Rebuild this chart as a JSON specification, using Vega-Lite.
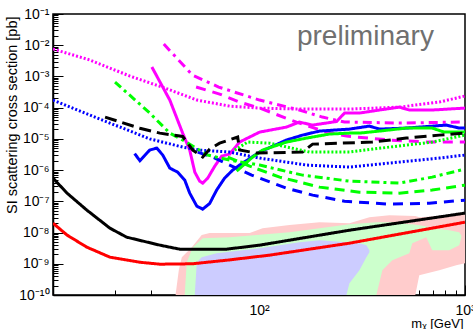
{
  "$schema": "https://vega.github.io/schema/vega-lite/v6.json",
  "width": 412,
  "height": 281,
  "autosize": "none",
  "padding": {"left": 53, "top": 14, "right": 8, "bottom": 34},
  "config": {
    "view": {"stroke": "black", "strokeWidth": 1.5},
    "font": "Liberation Sans",
    "axis": {"domainColor": "black", "domainWidth": 1.5, "tickColor": "black", "tickWidth": 1, "labelColor": "black", "titleColor": "black", "grid": false, "labelFont": "Liberation Sans", "titleFont": "Liberation Sans", "titleFontWeight": "normal", "labelOverlap": false, "labelFlush": false, "labelBound": false}
  },
  "datasets": {
    "lines": [
      {"s":"mag_dot","m":10,"v":7.55e-3},{"s":"mag_dot","m":15.1,"v":3.36e-3},{"s":"mag_dot","m":23.6,"v":1.03e-3},{"s":"mag_dot","m":34.9,"v":4.25e-4},{"s":"mag_dot","m":50,"v":1.75e-4},{"s":"mag_dot","m":72,"v":1.12e-4},{"s":"mag_dot","m":100.7,"v":9.7e-5},{"s":"mag_dot","m":157,"v":9.0e-5},{"s":"mag_dot","m":275,"v":9.0e-5},{"s":"mag_dot","m":480,"v":1.04e-4},{"s":"mag_dot","m":750,"v":1.51e-4},{"s":"mag_dot","m":1000,"v":2.36e-4},
      {"s":"mag_dashdot","m":34.5,"v":1.09e-2},{"s":"mag_dashdot","m":47.5,"v":1.11e-3},{"s":"mag_dashdot","m":63.7,"v":4.57e-4},{"s":"mag_dashdot","m":100.7,"v":1.75e-4},{"s":"mag_dashdot","m":157,"v":8.4e-5},{"s":"mag_dashdot","m":203,"v":5.0e-5},{"s":"mag_dashdot","m":260,"v":3.47e-5},{"s":"mag_dashdot","m":480,"v":3.22e-5},{"s":"mag_dashdot","m":1000,"v":3.47e-5},
      {"s":"mag_dash","m":49.5,"v":4.57e-4},{"s":"mag_dash","m":64.4,"v":2.73e-4},{"s":"mag_dash","m":80.5,"v":1.51e-4},{"s":"mag_dash","m":100.7,"v":9.7e-5},{"s":"mag_dash","m":152,"v":3.45e-5},{"s":"mag_dash","m":212,"v":1.65e-5},{"s":"mag_dash","m":266,"v":1.23e-5},{"s":"mag_dash","m":429,"v":9.2e-6},{"s":"mag_dash","m":671,"v":7.9e-6},{"s":"mag_dash","m":1000,"v":7.9e-6},
      {"s":"mag_solid","m":30.2,"v":2.0e-3},{"s":"mag_solid","m":34.1,"v":4.57e-4},{"s":"mag_solid","m":36.9,"v":1.75e-4},{"s":"mag_solid","m":39.9,"v":4.65e-5},{"s":"mag_solid","m":42.6,"v":1.53e-5},{"s":"mag_solid","m":46.1,"v":4.38e-6},{"s":"mag_solid","m":48.8,"v":8.6e-7},{"s":"mag_solid","m":51.5,"v":4.43e-7},{"s":"mag_solid","m":53.3,"v":3.83e-7},{"s":"mag_solid","m":56.4,"v":5.55e-7},{"s":"mag_solid","m":61.0,"v":1.34e-6},{"s":"mag_solid","m":65.9,"v":2.81e-6},{"s":"mag_solid","m":72.0,"v":3.26e-6},{"s":"mag_solid","m":80.5,"v":7.9e-6},{"s":"mag_solid","m":100.7,"v":1.65e-5},{"s":"mag_solid","m":136,"v":2.39e-5},{"s":"mag_solid","m":157,"v":3.45e-5},{"s":"mag_solid","m":182,"v":2.77e-5},{"s":"mag_solid","m":238,"v":3.6e-5},{"s":"mag_solid","m":260,"v":6.7e-5},{"s":"mag_solid","m":307,"v":6.7e-5},{"s":"mag_solid","m":384,"v":8.4e-5},{"s":"mag_solid","m":480,"v":1.04e-4},{"s":"mag_solid","m":537,"v":8.4e-5},{"s":"mag_solid","m":693,"v":8.4e-5},{"s":"mag_solid","m":1000,"v":9.7e-5},
      {"s":"blue_solid","m":24.9,"v":3.4e-6},{"s":"blue_solid","m":26.4,"v":2.0e-6},{"s":"blue_solid","m":29.5,"v":4.4e-6},{"s":"blue_solid","m":31.9,"v":5.07e-6},{"s":"blue_solid","m":34.1,"v":3.03e-6},{"s":"blue_solid","m":36.9,"v":1.16e-6},{"s":"blue_solid","m":40.3,"v":8.6e-7},{"s":"blue_solid","m":43.6,"v":4.79e-7},{"s":"blue_solid","m":46.1,"v":1.83e-7},{"s":"blue_solid","m":49.9,"v":7.0e-8},{"s":"blue_solid","m":53.3,"v":5.62e-8},{"s":"blue_solid","m":57.6,"v":8.5e-8},{"s":"blue_solid","m":62.3,"v":2.3e-7},{"s":"blue_solid","m":68.1,"v":5.55e-7},{"s":"blue_solid","m":74.5,"v":1.0e-6},{"s":"blue_solid","m":80.5,"v":1.45e-6},{"s":"blue_solid","m":100.7,"v":3.78e-6},{"s":"blue_solid","m":136,"v":9.2e-6},{"s":"blue_solid","m":162.6,"v":1.32e-5},{"s":"blue_solid","m":196.7,"v":1.78e-5},{"s":"blue_solid","m":275,"v":2.06e-5},{"s":"blue_solid","m":343.5,"v":2.57e-5},{"s":"blue_solid","m":384,"v":2.06e-5},{"s":"blue_solid","m":519,"v":2.22e-5},{"s":"blue_solid","m":811,"v":2.77e-5},{"s":"blue_solid","m":937,"v":2.22e-5},{"s":"blue_solid","m":1000,"v":2.22e-5},
      {"s":"blue_dot","m":10,"v":1.75e-4},{"s":"blue_dot","m":16.9,"v":4.3e-5},{"s":"blue_dot","m":29.5,"v":1.0e-5},{"s":"blue_dot","m":42.6,"v":5.46e-6},{"s":"blue_dot","m":51.5,"v":4.38e-6},{"s":"blue_dot","m":72,"v":3.78e-6},{"s":"blue_dot","m":100.7,"v":2.43e-6},{"s":"blue_dot","m":170,"v":1.45e-6},{"s":"blue_dot","m":275,"v":1.25e-6},{"s":"blue_dot","m":429,"v":1.68e-6},{"s":"blue_dot","m":750,"v":2.43e-6},{"s":"blue_dot","m":1000,"v":3.03e-6},
      {"s":"blue_dash","m":50.4,"v":3.78e-6},{"s":"blue_dash","m":61,"v":2.43e-6},{"s":"blue_dash","m":72,"v":1.45e-6},{"s":"blue_dash","m":92.1,"v":6.9e-7},{"s":"blue_dash","m":136,"v":2.65e-7},{"s":"blue_dash","m":182,"v":1.58e-7},{"s":"blue_dash","m":260,"v":1.01e-7},{"s":"blue_dash","m":429,"v":8.1e-8},{"s":"blue_dash","m":671,"v":8.7e-8},{"s":"blue_dash","m":1000,"v":1.09e-7},
      {"s":"green_dashdot","m":20,"v":6.6e-4},{"s":"green_dashdot","m":29.5,"v":6.7e-5},{"s":"green_dashdot","m":36.9,"v":1.53e-5},{"s":"green_dashdot","m":42.6,"v":9.2e-6},{"s":"green_dashdot","m":56.4,"v":3.03e-6},{"s":"green_dashdot","m":72,"v":2.09e-6},{"s":"green_dashdot","m":100.7,"v":1.45e-6},{"s":"green_dashdot","m":162.6,"v":6.9e-7},{"s":"green_dashdot","m":275,"v":4.43e-7},{"s":"green_dashdot","m":480,"v":3.83e-7},{"s":"green_dashdot","m":693,"v":5.97e-7},{"s":"green_dashdot","m":1000,"v":1.08e-6},
      {"s":"green_dash","m":70.5,"v":2.61e-6},{"s":"green_dash","m":90.1,"v":1.34e-6},{"s":"green_dash","m":126,"v":5.97e-7},{"s":"green_dash","m":196.7,"v":2.85e-7},{"s":"green_dash","m":307,"v":1.97e-7},{"s":"green_dash","m":480,"v":1.83e-7},{"s":"green_dash","m":693,"v":2.29e-7},{"s":"green_dash","m":1000,"v":3.3e-7},
      {"s":"green_dot","m":76.2,"v":4.38e-6},{"s":"green_dot","m":88.1,"v":7.9e-6},{"s":"green_dot","m":112.6,"v":7.3e-6},{"s":"green_dot","m":175.8,"v":3.78e-6},{"s":"green_dot","m":275,"v":3.78e-6},{"s":"green_dot","m":429,"v":5.46e-6},{"s":"green_dot","m":693,"v":7.9e-6},{"s":"green_dot","m":1000,"v":1.32e-5},
      {"s":"green_solid","m":77.9,"v":9.3e-7},{"s":"green_solid","m":93.1,"v":2.61e-6},{"s":"green_solid","m":104.1,"v":4.38e-6},{"s":"green_solid","m":136,"v":7.9e-6},{"s":"green_solid","m":170,"v":1.06e-5},{"s":"green_solid","m":220,"v":1.43e-5},{"s":"green_solid","m":275,"v":1.53e-5},{"s":"green_solid","m":307,"v":1.53e-5},{"s":"green_solid","m":384,"v":1.78e-5},{"s":"green_solid","m":519,"v":2.22e-5},{"s":"green_solid","m":693,"v":2.22e-5},{"s":"green_solid","m":792,"v":1.65e-5},{"s":"green_solid","m":1000,"v":1.65e-5},
      {"s":"black_dash","m":17.9,"v":5.0e-5},{"s":"black_dash","m":26.4,"v":2.2e-5},{"s":"black_dash","m":33,"v":1.53e-5},{"s":"black_dash","m":42.6,"v":1.2e-5},{"s":"black_dash","m":47.7,"v":4.38e-6},{"s":"black_dash","m":53.3,"v":2.61e-6},{"s":"black_dash","m":57.6,"v":4.71e-6},{"s":"black_dash","m":64.4,"v":7.3e-6},{"s":"black_dash","m":78.8,"v":1.14e-5},{"s":"black_dash","m":80.5,"v":4.38e-6},{"s":"black_dash","m":97.4,"v":3.51e-6},{"s":"black_dash","m":162.6,"v":3.78e-6},{"s":"black_dash","m":182,"v":6.8e-6},{"s":"black_dash","m":246,"v":7.3e-6},{"s":"black_dash","m":355,"v":7.9e-6},{"s":"black_dash","m":519,"v":1.06e-5},{"s":"black_dash","m":750,"v":1.32e-5},{"s":"black_dash","m":1000,"v":1.53e-5},
      {"s":"black_solid","m":10,"v":5.55e-7},{"s":"black_solid","m":11.7,"v":1.83e-7},{"s":"black_solid","m":14.6,"v":5.22e-8},{"s":"black_solid","m":18.9,"v":1.38e-8},{"s":"black_solid","m":22.8,"v":7.1e-9},{"s":"black_solid","m":33,"v":3.95e-9},{"s":"black_solid","m":41.2,"v":2.94e-9},{"s":"black_solid","m":69.7,"v":2.94e-9},{"s":"black_solid","m":100.7,"v":3.95e-9},{"s":"black_solid","m":275,"v":1.19e-8},{"s":"black_solid","m":1000,"v":4.19e-8},
      {"s":"red","m":10,"v":2.0e-8},{"s":"red","m":11.7,"v":8.3e-9},{"s":"red","m":14.6,"v":3.4e-9},{"s":"red","m":18.9,"v":1.63e-9},{"s":"red","m":26.4,"v":1.12e-9},{"s":"red","m":33,"v":9.7e-10},{"s":"red","m":47.5,"v":1.0e-9},{"s":"red","m":69.7,"v":1.3e-9},{"s":"red","m":112.6,"v":1.89e-9},{"s":"red","m":275,"v":4.57e-9},{"s":"red","m":1000,"v":2.15e-8}
    ],
    "pink": [
      {"m":39.4,"top":1.08e-10,"bot":1e-10},{"m":40.8,"top":6.2e-10,"bot":1e-10},{"m":42.2,"top":1.63e-9,"bot":1e-10},{"m":47.2,"top":3.4e-9,"bot":1e-10},{"m":52.7,"top":8.3e-9,"bot":1e-10},{"m":57.6,"top":9.6e-9,"bot":1e-10},{"m":90.1,"top":9.6e-9,"bot":1e-10},{"m":104.1,"top":1.38e-8,"bot":1e-10},{"m":140.6,"top":1.73e-8,"bot":1e-10},{"m":196.7,"top":2.15e-8,"bot":1e-10},{"m":274.8,"top":2.0e-8,"bot":1e-10},{"m":343.5,"top":3.12e-8,"bot":1e-10},{"m":429.2,"top":3.61e-8,"bot":1e-10},{"m":573.8,"top":3.36e-8,"bot":1e-10},{"m":599.8,"top":3.12e-8,"bot":4.31e-10},{"m":749.7,"top":3.36e-8,"bot":6.2e-10},{"m":906.6,"top":3.61e-8,"bot":9.0e-10},{"m":1000,"top":4.19e-8,"bot":1.04e-9}
    ],
    "green": [
      {"m":43.6,"top":1.08e-10,"bot":1e-10},{"m":44.6,"top":1.12e-9,"bot":1e-10},{"m":47.7,"top":3.4e-9,"bot":1e-10},{"m":53.3,"top":6.6e-9,"bot":1e-10},{"m":72.0,"top":7.1e-9,"bot":1e-10},{"m":97.4,"top":8.3e-9,"bot":1e-10},{"m":140.6,"top":1.03e-8,"bot":1e-10},{"m":196.7,"top":1.38e-8,"bot":1e-10},{"m":274.8,"top":1.86e-8,"bot":1e-10},{"m":371.3,"top":2.15e-8,"bot":1e-10},{"m":397.1,"top":2.15e-8,"bot":6.2e-10},{"m":443.9,"top":2.15e-8,"bot":1.3e-9},{"m":536.6,"top":1.86e-8,"bot":2.19e-9},{"m":554.9,"top":1.86e-8,"bot":4.57e-9},{"m":648.6,"top":1.6e-8,"bot":7.1e-9},{"m":693.4,"top":1.38e-8,"bot":2.73e-9},{"m":838.2,"top":1.19e-8,"bot":2.73e-9},{"m":937.5,"top":1.03e-8,"bot":3.95e-9},{"m":960,"top":8e-9,"bot":7e-9}
    ],
    "blue": [
      {"m":48.8,"top":1.08e-10,"bot":1e-10},{"m":49.9,"top":1.12e-9,"bot":1e-10},{"m":52.7,"top":1.63e-9,"bot":1e-10},{"m":62.3,"top":2.19e-9,"bot":1e-10},{"m":100.7,"top":3.16e-9,"bot":1e-10},{"m":157.3,"top":4.92e-9,"bot":1e-10},{"m":196.7,"top":5.7e-9,"bot":1e-10},{"m":265.7,"top":4.92e-9,"bot":1e-10},{"m":274.8,"top":4.57e-9,"bot":2.39e-10},{"m":307.2,"top":4.57e-9,"bot":6.2e-10},{"m":332.1,"top":3.95e-9,"bot":1.63e-9},{"m":343.5,"top":2.73e-9,"bot":2.36e-9}
    ],
    "txt": [{"label":"preliminary","m":328.6,"v":1.01e-2}]
  },
  "layer": [
    {
      "data": {"name": "pink"},
      "mark": {"type": "area", "color": "#ffcccc", "clip": true},
      "encoding": {
        "x": {"field": "m", "type": "quantitative", "scale": {"type": "log", "domain": [10, 1000], "nice": false},
          "axis": {"values": [20,30,40,50,60,70,80,90,100,200,300,400,500,600,700,800,900,1000],
            "labelExpr": "datum.value == 100 ? '10²' : (datum.value == 1000 ? '10³' : '')",
            "tickSize": {"condition": {"test": "datum.value == 100 || datum.value == 1000", "value": -10}, "value": -5},
            "labelFontSize": 14, "labelPadding": 18,
            "title": "mᵪ [GeV]", "titleFontSize": 13, "titleX": 410, "titleY": 28, "titleAlign": "right", "titleBaseline": "middle", "titleAnchor": null}},
        "y": {"field": "top", "type": "quantitative", "scale": {"type": "log", "domain": [1e-10, 0.1], "nice": false},
          "axis": {"values": [1e-10,2e-10,3e-10,4e-10,5e-10,6e-10,7e-10,8e-10,9e-10,1e-9,2e-9,3e-9,4e-9,5e-9,6e-9,7e-9,8e-9,9e-9,1e-8,2e-8,3e-8,4e-8,5e-8,6e-8,7e-8,8e-8,9e-8,1e-7,2e-7,3e-7,4e-7,5e-7,6e-7,7e-7,8e-7,9e-7,1e-6,2e-6,3e-6,4e-6,5e-6,6e-6,7e-6,8e-6,9e-6,1e-5,2e-5,3e-5,4e-5,5e-5,6e-5,7e-5,8e-5,9e-5,1e-4,2e-4,3e-4,4e-4,5e-4,6e-4,7e-4,8e-4,9e-4,1e-3,2e-3,3e-3,4e-3,5e-3,6e-3,7e-3,8e-3,9e-3,1e-2,2e-2,3e-2,4e-2,5e-2,6e-2,7e-2,8e-2,9e-2,0.1],
            "labelExpr": "abs(log(datum.value)/LN10 - round(log(datum.value)/LN10)) < 0.001 ? '10' + ['⁻¹⁰','⁻⁹','⁻⁸','⁻⁷','⁻⁶','⁻⁵','⁻⁴','⁻³','⁻²','⁻¹'][round(log(datum.value)/LN10)+10] : ''",
            "tickSize": {"condition": {"test": "abs(log(datum.value)/LN10 - round(log(datum.value)/LN10)) < 0.001", "value": -10}, "value": -5},
            "labelFontSize": 14, "labelPadding": 14,
            "title": "SI scattering cross section [pb]", "titleFontSize": 14.5, "titleX": -41, "titleY": 2, "titleAlign": "right", "titleBaseline": "middle", "titleAnchor": null}},
        "y2": {"field": "bot"}
      }
    },
    {
      "data": {"name": "green"},
      "mark": {"type": "area", "color": "#ccffcc", "clip": true},
      "encoding": {
        "x": {"field": "m", "type": "quantitative"},
        "y": {"field": "top", "type": "quantitative"},
        "y2": {"field": "bot"}
      }
    },
    {
      "data": {"name": "blue"},
      "mark": {"type": "area", "color": "#ccccff", "clip": true},
      "encoding": {
        "x": {"field": "m", "type": "quantitative"},
        "y": {"field": "top", "type": "quantitative"},
        "y2": {"field": "bot"}
      }
    },
    {
      "data": {"name": "lines"},
      "mark": {"type": "line", "clip": true, "strokeCap": "butt"},
      "encoding": {
        "x": {"field": "m", "type": "quantitative"},
        "y": {"field": "v", "type": "quantitative"},
        "color": {"field": "s", "type": "nominal", "legend": null,
          "scale": {"domain": ["mag_dot","mag_dashdot","mag_dash","mag_solid","blue_solid","blue_dot","blue_dash","green_dashdot","green_dash","green_dot","green_solid","black_dash","black_solid","red"],
                    "range": ["#ff00ff","#ff00ff","#ff00ff","#ff00ff","#0000ff","#0000ff","#0000ff","#00ff00","#00ff00","#00ff00","#00ff00","#000000","#000000","#ff0000"]}},
        "strokeDash": {"field": "s", "type": "nominal", "legend": null,
          "scale": {"domain": ["mag_dot","mag_dashdot","mag_dash","mag_solid","blue_solid","blue_dot","blue_dash","green_dashdot","green_dash","green_dot","green_solid","black_dash","black_solid","red"],
                    "range": [[2,2],[9,5,3,5],[10,7],[1,0],[1,0],[2,2],[10,7],[8,4,3,4],[10,6],[2,2],[1,0],[12,6],[1,0],[1,0]]}},
        "strokeWidth": {"field": "s", "type": "nominal", "legend": null,
          "scale": {"domain": ["mag_dot","mag_dashdot","mag_dash","mag_solid","blue_solid","blue_dot","blue_dash","green_dashdot","green_dash","green_dot","green_solid","black_dash","black_solid","red"],
                    "range": [3,3,3.5,2.5,3,3,3.5,3,3.5,3,3,3,3,3]}}
      }
    },
    {
      "data": {"name": "txt"},
      "mark": {"type": "text", "fontSize": 28, "color": "#707070", "align": "center", "baseline": "alphabetic", "font": "Liberation Sans"},
      "encoding": {
        "x": {"field": "m", "type": "quantitative"},
        "y": {"field": "v", "type": "quantitative"},
        "text": {"field": "label"}
      }
    }
  ]
}
